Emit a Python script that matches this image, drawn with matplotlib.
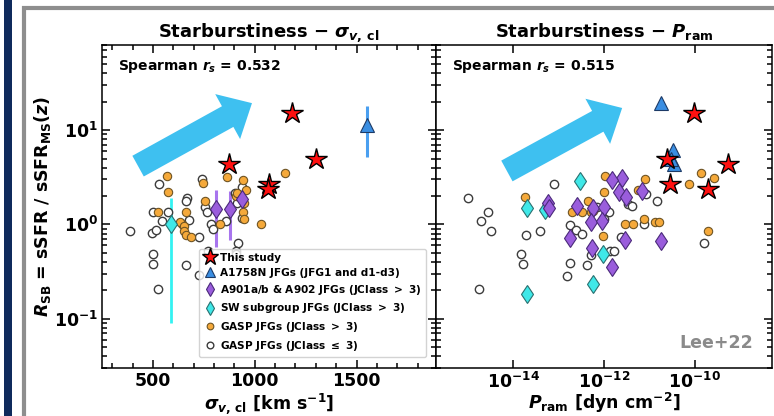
import matplotlib
matplotlib.use('Agg')
import matplotlib.pyplot as plt
from matplotlib.patches import Rectangle
from matplotlib.ticker import MultipleLocator, FixedLocator, NullLocator

plt.rcParams['font.family'] = 'DejaVu Sans'
plt.rcParams['font.weight'] = 'bold'
plt.rcParams['axes.labelweight'] = 'bold'
plt.rcParams['axes.titleweight'] = 'bold'
plt.rcParams['mathtext.fontset'] = 'custom'
plt.rcParams['mathtext.rm'] = 'DejaVu Sans:bold'
plt.rcParams['mathtext.it'] = 'DejaVu Sans:italic:bold'
plt.rcParams['mathtext.bf'] = 'DejaVu Sans:bold'

# ---- this study (red stars) ----
star_y = [15.2, 5.0, 4.35, 2.7, 2.4]
star_sigma = [1181, 1299, 872, 1068, 1065]
star_pram = [9.5e-11, 2.4e-11, 5.4e-10, 2.8e-11, 1.95e-10]

# ---- A1758N JFGs ----
a1758_sigma = [1549]
a1758_sigma_y = [11.3]
a1758_sigma_lo = [5.2]
a1758_sigma_hi = [18.0]
a1758_pram = [1.8e-11, 3.3e-11, 3.5e-11, 3.0e-11]
a1758_pram_y = [19.4, 6.1, 4.35, 4.9]

# ---- A901a/b & A902 JFGs ----
a901_sigma = [809, 877, 936]
a901_sigma_y = [1.44, 1.44, 1.84]
a901_sigma_lo = [0.57, 0.68, 1.84]
a901_sigma_hi = [2.3, 2.24, 1.84]
a901_pram = [2.5e-12, 1.5e-12, 2.1e-12, 3.0e-12, 6.9e-12, 5.9e-14, 6.2e-14, 2.6e-13,
             5.7e-13, 1.0e-12, 5.2e-13, 9.0e-13, 1.8e-13, 2.9e-12, 1.8e-11, 5.5e-13, 1.5e-12]
a901_pram_y = [3.09, 2.94, 2.19, 1.94, 2.24, 1.67, 1.48, 1.55,
               1.48, 1.52, 1.05, 1.10, 0.71, 0.69, 0.66, 0.56, 0.357]

# ---- SW subgroup JFGs ----
sw_sigma = [588]
sw_sigma_y = [1.0]
sw_sigma_lo = [0.089]
sw_sigma_hi = [1.89]
sw_pram = [3.0e-13, 2.0e-14, 5.0e-14, 9.5e-13, 5.7e-13, 2.0e-14]
sw_pram_y = [2.87, 1.48, 1.41, 0.48, 0.235, 0.184]

# ---- GASP JFGs (JClass > 3) ----
gasp_hi_sigma = [569, 573, 525, 662, 642, 632, 652, 655, 662, 686, 745, 755,
                 863, 907, 912, 941, 956, 946, 941, 946, 828, 1029, 1147]
gasp_hi_sigma_y = [3.24, 2.19, 1.34, 1.34, 1.02, 1.05, 0.97, 0.86, 0.78, 0.73, 2.73, 1.76,
                   3.16, 1.98, 2.14, 2.94, 2.30, 1.68, 1.37, 1.13, 1.02, 1.0, 3.49]
gasp_hi_pram = [1.05e-12, 8e-12, 1.8e-14, 1e-12, 4.5e-13, 5.6e-12, 2e-13, 3.3e-13, 5.2e-13,
                5.7e-13, 9.5e-13, 2.9e-12, 4.3e-12, 7.6e-12, 1.3e-11, 1.6e-11, 7.4e-11,
                1.4e-10, 2.6e-10, 1.95e-10]
gasp_hi_pram_y = [3.24, 3.0, 1.94, 2.19, 1.76, 2.30, 1.34, 1.34, 1.34,
                  1.40, 0.745, 1.0, 1.02, 1.13, 1.05, 1.07, 2.66,
                  3.49, 3.09, 0.86]

# ---- GASP JFGs (JClass <= 3) ----
gasp_lo_sigma = [387, 529, 500, 495, 515, 544, 573, 500, 500, 525, 667, 662, 676, 725,
                 662, 740, 755, 765, 784, 794, 858, 917, 936, 936, 902, 907, 907, 770,
                 725, 912]
gasp_lo_sigma_y = [0.86, 2.66, 1.34, 0.82, 0.88, 1.10, 1.34, 0.48, 0.385, 0.209, 1.89, 1.76,
                   1.12, 0.73, 0.375, 3.0, 1.52, 1.37, 1.0, 0.9, 1.08, 0.64, 2.48, 1.16,
                   2.14, 0.52, 0.49, 0.52, 0.29, 1.67]
gasp_lo_pram = [1e-15, 8e-14, 2.8e-15, 2e-15, 3.3e-15, 1.9e-14, 3.9e-14, 1.8e-13, 2.4e-13,
                3.3e-13, 7e-13, 1.3e-12, 1e-12, 3.4e-12, 4.1e-12, 8.4e-12, 1.45e-11,
                2.4e-12, 1.35e-12, 1.7e-12, 5.2e-13, 1.5e-14, 1.65e-14, 1.8e-13, 4.2e-13,
                1.5e-13, 1.8e-15, 1.6e-10, 7.6e-12]
gasp_lo_pram_y = [1.89, 2.66, 1.34, 1.10, 0.86, 0.78, 0.86, 0.98, 0.88,
                  0.80, 1.52, 1.37, 1.13, 1.63, 1.55, 2.08, 1.76,
                  0.73, 0.52, 0.52, 0.47, 0.48, 0.385, 0.39, 0.375,
                  0.287, 0.209, 0.64, 1.02]

rs_sigma = 0.532
rs_pram = 0.515

# styles
st_star = dict(marker='*', ms=16, mfc='#ff1010', mec='black', mew=1.0, ls='none', zorder=7)
st_tri = dict(marker='^', ms=9.5, mfc='#3a8ee2', mec='#1d3a66', mew=0.8, ls='none', zorder=6)
st_pur = dict(marker='d', ms=9.5, mfc='#9a5ddc', mec='#4a2a7a', mew=0.8, ls='none', zorder=5)
st_cyan = dict(marker='d', ms=9.5, mfc='#3fe8e8', mec='#2a7070', mew=0.8, ls='none', zorder=5)
st_orange = dict(marker='o', ms=6, mfc='#f5a93a', mec='#6e5424', mew=0.8, ls='none', zorder=4)
st_open = dict(marker='o', ms=6, mfc='white', mec='#3c3c3c', mew=1.0, ls='none', zorder=3)
arrow_color = '#3ec0f0'

fig = plt.figure(figsize=(7.74, 4.16), dpi=100)
fig.patch.set_facecolor('white')

# slide decorations
fig.add_artist(Rectangle((4 / 774, 0), 7.5 / 774, 1, transform=fig.transFigure,
                         facecolor='#0f2a5c', edgecolor='none'))
fig.add_artist(Rectangle((23.5 / 774, -0.1), 1.0, 1.1 - 7.5 / 416, transform=fig.transFigure,
                         facecolor='none', edgecolor='#8e8e8e', lw=3.0))

ax1 = fig.add_axes([102 / 774, 1 - 368 / 416, 334 / 774, 323 / 416])
ax2 = fig.add_axes([436 / 774, 1 - 368 / 416, 336 / 774, 323 / 416], sharey=ax1)

# left panel: starburstiness vs velocity dispersion
ax1.errorbar(a1758_sigma, a1758_sigma_y,
             yerr=[[a - b for a, b in zip(a1758_sigma_y, a1758_sigma_lo)],
                   [b - a for a, b in zip(a1758_sigma_y, a1758_sigma_hi)]],
             fmt='none', ecolor='#4a9ff0', elinewidth=2.2, zorder=2)
ax1.errorbar(a901_sigma, a901_sigma_y,
             yerr=[[a - b for a, b in zip(a901_sigma_y, a901_sigma_lo)],
                   [b - a for a, b in zip(a901_sigma_y, a901_sigma_hi)]],
             fmt='none', ecolor='#a875ee', elinewidth=2.2, zorder=2)
ax1.errorbar(sw_sigma, sw_sigma_y,
             yerr=[[a - b for a, b in zip(sw_sigma_y, sw_sigma_lo)],
                   [b - a for a, b in zip(sw_sigma_y, sw_sigma_hi)]],
             fmt='none', ecolor='#33f2f2', elinewidth=2.0, zorder=2)
ax1.plot(gasp_lo_sigma, gasp_lo_sigma_y, **st_open, label='GASP JFGs (JClass $\\leq$ 3)')
ax1.plot(gasp_hi_sigma, gasp_hi_sigma_y, **st_orange, label='GASP JFGs (JClass $>$ 3)')
ax1.plot(sw_sigma, sw_sigma_y, **st_cyan, label='SW subgroup JFGs (JClass $>$ 3)')
ax1.plot(a901_sigma, a901_sigma_y, **st_pur, label='A901a/b & A902 JFGs (JClass $>$ 3)')
ax1.plot(a1758_sigma, a1758_sigma_y, **st_tri, label='A1758N JFGs (JFG1 and d1-d3)')
ax1.plot(star_sigma, star_y, **st_star, label='This study')

# right panel: starburstiness vs ram pressure
ax2.plot(gasp_lo_pram, gasp_lo_pram_y, **st_open)
ax2.plot(gasp_hi_pram, gasp_hi_pram_y, **st_orange)
ax2.plot(sw_pram, sw_pram_y, **st_cyan)
ax2.plot(a901_pram, a901_pram_y, **st_pur)
ax2.plot(a1758_pram, a1758_pram_y, **st_tri)
ax2.plot(star_pram, star_y, **st_star)

# trend arrows
arrow_props = dict(arrowstyle='simple,head_length=1.0,head_width=1.85,tail_width=0.85',
                   mutation_scale=20, color=arrow_color, lw=0, shrinkA=0, shrinkB=0)
ax1.annotate('', xy=(0.449, 0.820), xytext=(0.108, 0.625), xycoords='axes fraction',
             arrowprops=arrow_props, zorder=1)
ax2.annotate('', xy=(0.554, 0.805), xytext=(0.211, 0.610), xycoords='axes fraction',
             arrowprops=arrow_props, zorder=1)

ax1.set_yscale('log')
ax1.set_ylim(0.03, 80)
ax1.set_xlim(250, 1890)
ax1.xaxis.set_major_locator(MultipleLocator(500))
ax1.xaxis.set_minor_locator(MultipleLocator(100))

ax2.set_xscale('log')
ax2.set_xlim(2e-16, 5e-9)
ax2.xaxis.set_major_locator(FixedLocator([1e-14, 1e-12, 1e-10]))
ax2.xaxis.set_minor_locator(NullLocator())

for ax in (ax1, ax2):
    ax.tick_params(which='both', direction='in', top=True, right=True, width=1.1,
                   labelsize=12.5)
    ax.tick_params(which='major', length=5.5, pad=3)
    ax.tick_params(which='minor', length=3.5)
    for sp in ax.spines.values():
        sp.set_linewidth(1.1)
ax2.tick_params(labelleft=False)

ax1.set_title('Starburstiness \u2212 $\\sigma_{v,\\,\\rm cl}$', fontsize=13, pad=6)
ax2.set_title('Starburstiness \u2212 $P_{\\rm ram}$', fontsize=13, pad=6)

ax1.set_xlabel('$\\sigma_{v,\\,\\rm cl}$ [km s$^{-1}$]', fontsize=12.5)
ax2.set_xlabel('$P_{\\rm ram}$ [dyn cm$^{-2}$]', fontsize=12.5)
ax1.set_ylabel('$R_{\\rm SB}$ = sSFR / sSFR$_{\\rm MS}(z)$', fontsize=12.5)
ax1.yaxis.set_label_coords(-0.147, 0.5)
ax1.xaxis.set_label_coords(0.5, -0.071)
ax2.xaxis.set_label_coords(0.5, -0.071)

ax1.text(0.048, 0.932, 'Spearman $r_s$ = {:.3f}'.format(rs_sigma), transform=ax1.transAxes,
         ha='left', va='center', fontsize=10)
ax2.text(0.048, 0.932, 'Spearman $r_s$ = {:.3f}'.format(rs_pram), transform=ax2.transAxes,
         ha='left', va='center', fontsize=10)
ax2.text(0.943, 0.077, 'Lee+22', transform=ax2.transAxes, ha='right', va='center',
         color='#8a8a8a', fontsize=12.5)

handles, labels = ax1.get_legend_handles_labels()
leg = ax1.legend(handles[::-1], labels[::-1], loc='lower right', bbox_to_anchor=(0.97, 0.034),
                 borderaxespad=0, prop={'size': 7.6, 'weight': 'bold'}, handlelength=1.4,
                 handletextpad=0.25, labelspacing=0.45, borderpad=0.4, markerscale=0.8,
                 framealpha=0.8, edgecolor='#c8c8c8')
leg.set_zorder(10)

fig.savefig('out.png', dpi=100)
